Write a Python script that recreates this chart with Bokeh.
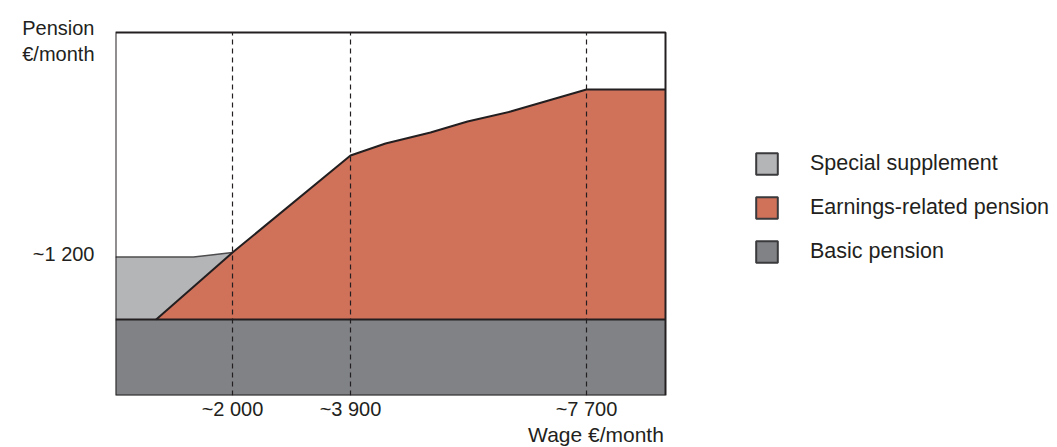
import numpy as np
from bokeh.plotting import figure
from bokeh.models import (Range1d, FixedTicker, Legend, LegendItem, LinearAxis,
                          ColumnDataSource)
from bokeh.embed import file_html
from bokeh.resources import INLINE

# ---------------- data (schematic, €/month) ----------------
wage_min, wage_max = 116, 8972          # wage span of the chart box
pension_top = 3068                      # pension at the top of the chart box

basic_level = 642

# special supplement top edge
supp_wage = [116, 1372, 2000]
supp_pension = [1170, 1170, 1208]

# earnings-related pension top edge
earn_wage = [771, 2000, 3900, 4464, 5188, 5784, 6477, 7700, 8972]
earn_pension = [642, 1208, 2028, 2130, 2223, 2316, 2400, 2586, 2586]

x_ticks = [2000, 3900, 7700]
x_tick_labels = ["~2 000", "~3 900", "~7 700"]
y_ticks = [1200, 2890, 3110]
y_tick_labels = ["~1 200", "€/month", "Pension"]
x_caption = "Wage €/month"

legend_labels = ["Special supplement", "Earnings-related pension", "Basic pension"]

# ---------------- style ----------------
C_SUPP = "#b4b5b7"
C_EARN = "#d0715a"
C_BASIC = "#808285"
C_INK = "#231f20"
FONT = "Liberation Sans"

BOX_W = 550       # chart box width in px
BOX_H = 363       # chart box height in px
FRAME_W = 940
FRAME_H = 395
x_per_px = (wage_max - wage_min) / BOX_W
y_per_px = pension_top / BOX_H


def wage_at(px):
    """wage value at a horizontal page pixel (frame starts at px 115)"""
    return wage_min + (px - 115) * x_per_px


p = figure(frame_width=FRAME_W, frame_height=FRAME_H,
           min_border_left=115, min_border_top=0, min_border_bottom=48,
           min_border_right=0,
           x_range=Range1d(wage_min, wage_min + FRAME_W * x_per_px),
           y_range=Range1d(0, FRAME_H * y_per_px),
           output_backend="svg", toolbar_location=None,
           background_fill_color="white", border_fill_color="white")
p.outline_line_color = None
p.xgrid.visible = False
p.ygrid.visible = False

# basic pension
p.varea(x=[wage_min, wage_max], y1=[0, 0], y2=[basic_level, basic_level],
        fill_color=C_BASIC)

# special supplement polygon: top edge then back along earnings line
sx = [wage_min] + supp_wage + [earn_wage[1], earn_wage[0]]
sy = [basic_level] + supp_pension + [earn_pension[1], earn_pension[0]]
p.patch(x=sx, y=sy, fill_color=C_SUPP, line_color=None)

# earnings-related pension
p.varea(x=earn_wage, y1=[basic_level] * len(earn_wage), y2=earn_pension,
        fill_color=C_EARN)

# dashed guides
for xv in x_ticks:
    p.line(x=[xv, xv], y=[0, pension_top], line_color=C_INK, line_width=1.2,
           line_dash="5 4")

# boundary lines
p.line(x=supp_wage, y=supp_pension, line_color="#4d4d4f", line_width=1.5)
p.line(x=[wage_min, wage_max], y=[basic_level, basic_level], line_color=C_INK,
       line_width=2)
p.line(x=earn_wage, y=earn_pension, line_color=C_INK, line_width=2)

# chart box
p.quad(left=[wage_min], right=[wage_max], bottom=[0], top=[pension_top],
       fill_alpha=0, line_color=C_INK, line_width=2)


def style_axis(ax, size):
    ax.axis_line_color = None
    ax.major_tick_line_color = None
    ax.minor_tick_line_color = None
    ax.major_tick_out = 0
    ax.major_tick_in = 0
    ax.minor_tick_out = 0
    ax.minor_tick_in = 0
    ax.axis_label_standoff = 0
    ax.major_label_text_font = FONT
    ax.major_label_text_color = C_INK
    ax.major_label_text_font_size = size


# axes
style_axis(p.xaxis[0], "20px")
style_axis(p.yaxis[0], "20px")
p.xaxis.ticker = FixedTicker(ticks=x_ticks)
p.xaxis.major_label_overrides = dict(zip(x_ticks, x_tick_labels))
p.xaxis.major_label_standoff = 2
p.yaxis.ticker = FixedTicker(ticks=y_ticks)
p.yaxis.major_label_overrides = dict(zip(y_ticks, y_tick_labels))
p.yaxis.major_label_standoff = 21

# second bottom axis carrying the x caption
cap_tick = int(round(wage_at(595.5)))
cap_axis = LinearAxis(ticker=FixedTicker(ticks=[cap_tick]),
                      major_label_overrides={cap_tick: x_caption},
                      major_label_standoff=0)
style_axis(cap_axis, "21px")
p.add_layout(cap_axis, "below")

# legend swatches: NaN-placed quads that only carry the swatch style
nan = np.array([np.nan])
swatches = []
for col in (C_SUPP, C_EARN, C_BASIC):
    r = p.quad(source=ColumnDataSource(dict(l=nan, r=nan, t=nan, b=nan)),
               left="l", right="r", top="t", bottom="b",
               fill_color=col, line_color="#3a3a3c", line_width=2)
    swatches.append(r)
legend = Legend(items=[LegendItem(label=lab, renderers=[r], index=0)
                       for lab, r in zip(legend_labels, swatches)],
                location=(638, 130), orientation="vertical",
                glyph_width=27, glyph_height=27, spacing=17,
                label_standoff=30, padding=0, margin=0,
                border_line_color=None, background_fill_alpha=0,
                label_text_font=FONT, label_text_font_size="21.5px",
                label_text_color=C_INK, label_height=27)
p.add_layout(legend, "center")

open("out.html", "w").write(file_html(p, INLINE))
